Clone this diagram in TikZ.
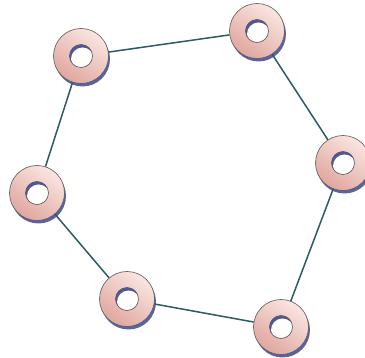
\documentclass[tikz,border=0pt]{standalone}
\usetikzlibrary{shadows,calc}
\definecolor{rose}{RGB}{224,166,158}
\definecolor{roseclair}{RGB}{250,230,226}
\definecolor{ombre}{RGB}{35,45,130}
\definecolor{sarcelle}{RGB}{42,92,98}
\begin{document}
\begin{tikzpicture}[
    x=1pt, y=-1pt,  % pixels de l'image, y vers le bas
    % Anneau : disque ombré percé d'un trou
    anneau/.style={circle, minimum size=55pt, inner sep=0pt,
        draw=black!65, line width=0.6pt,
        top color=roseclair, bottom color=rose, shading angle=-35,
        drop shadow={shadow xshift=1.5pt, shadow yshift=-3pt, fill=ombre, opacity=0.75},
        path picture={
            \coordinate (c) at (path picture bounding box.center);
            \begin{scope}
                \clip (c) circle (11.5pt);
                \fill[ombre!80] (c) circle (11.5pt);
                \fill[white] ($(c)+(1.5pt,-3pt)$) circle (11.5pt);
            \end{scope}
            \draw[black!65, line width=0.6pt] (c) circle (11.5pt);
        }},
    lien/.style={draw=sarcelle, line width=1.5pt}
]
\useasboundingbox (0,0) rectangle (365,358);
% Sommets
\node[anneau] (A) at (81,56) {};
\node[anneau] (B) at (257,31) {};
\node[anneau] (C) at (343,163) {};
\node[anneau] (D) at (37,193) {};
\node[anneau] (E) at (127,299) {};
\node[anneau] (F) at (281,327) {};
% Arêtes
\foreach \a/\b in {A/B, B/C, C/F, F/E, E/D, D/A}
    \draw[lien] (\a) -- (\b);
\end{tikzpicture}
\end{document}
